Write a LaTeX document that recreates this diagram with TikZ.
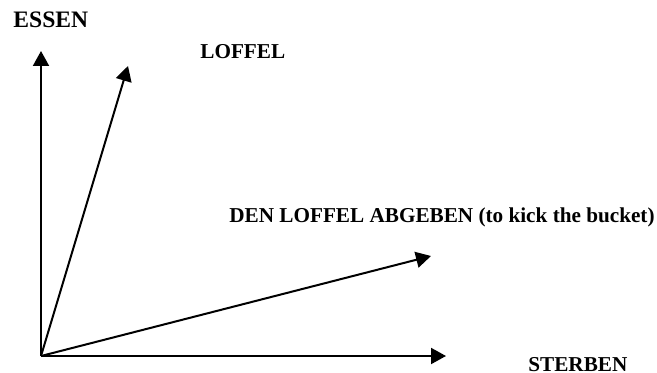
\documentclass[tikz,border=0pt]{standalone}
\usepackage{fontspec}
\setmainfont{Liberation Serif}
\usetikzlibrary{arrows.meta}

\tikzset{
  vec/.style={-{Triangle[length=7.5pt,width=8pt]},line width=1pt},
  lbl/.style={anchor=base west,inner sep=0pt,font=\fontsize{10.6}{12}\selectfont\bfseries}
}

\begin{document}
\begin{tikzpicture}[x=0.5pt,y=-0.5pt]
  \useasboundingbox (0,0) rectangle (657,373);
  \coordinate (O) at (41,356);
  \coordinate (Essen) at (41,51);
  \coordinate (Loffel) at (128,66);
  \coordinate (Abgeben) at (431,256);
  \coordinate (Sterben) at (446,356);

  \draw[vec] (O) -- (Essen);
  \draw[vec] (O) -- (Loffel);
  \draw[vec] (O) -- (Abgeben);
  \draw[vec] (O) -- (Sterben);

  \node[lbl,font=\fontsize{11.8}{13}\selectfont\bfseries] (essenlbl) at (13,28) {ESSEN};
  \node[lbl] (loffellbl) at (200,59) {LOFFEL};
  \node[lbl] (abgebenlbl) at (229,223) {DEN LOFFEL ABGEBEN (to kick the bucket)};
  \node[lbl] (sterbenlbl) at (528,371) {STERBEN};
\end{tikzpicture}
\end{document}
